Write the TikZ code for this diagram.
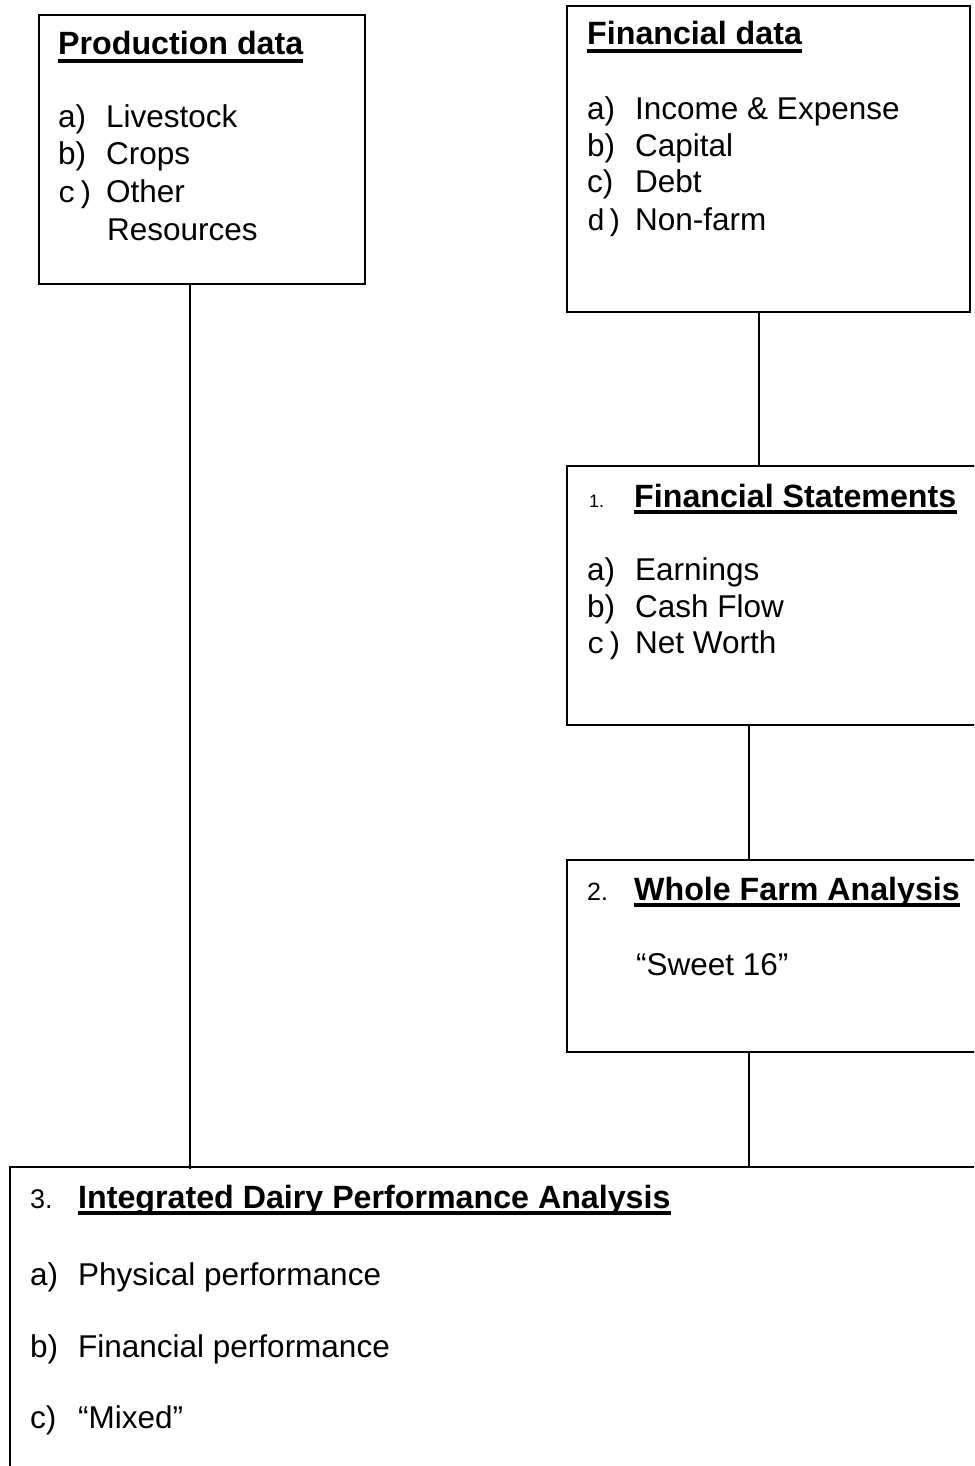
\documentclass[tikz,border=0pt]{standalone}
\usepackage{fontspec}
\setmainfont{Liberation Sans}
\newfontfamily\monof{Liberation Mono}
\begin{document}
\begin{tikzpicture}[x=1pt,y=-1pt,
  box/.style={draw, line width=2pt, rectangle, anchor=north west, inner sep=0pt},
  txt/.style={anchor=base west, inner sep=0pt, font=\fontsize{31.5}{37}\selectfont},
  hd/.style={anchor=base west, inner sep=0pt, font=\fontsize{32.2}{37}\selectfont\bfseries},
  conn/.style={line width=2pt},
  ul/.style={line width=3.2pt}]
\useasboundingbox (0,0) rectangle (974,1466);
\fill[white] (0,0) rectangle (974,1466);
\clip (0,0) rectangle (974,1466);
\newcommand{\tabit}[1]{\makebox[48pt][l]{#1}}
\newcommand{\mtab}[1]{\makebox[48pt][l]{\monof\fontsize{30}{37}\selectfont #1}}
% boxes
\node[box, minimum width=326pt, minimum height=269pt] (prod) at (38,14) {};
\node[box, minimum width=403pt, minimum height=306pt] (fdata) at (566,5) {};
\node[box, minimum width=460pt, minimum height=259pt] (fstat) at (566,465) {};
\node[box, minimum width=460pt, minimum height=192pt] (wfa) at (566,859) {};
\node[box, minimum width=1000pt, minimum height=400pt] (idpa) at (9,1166) {};
% connectors
\coordinate (c1) at (190,1169);
\draw[conn] (prod.south -| c1) -- (c1);
\coordinate (k0) at ([xshift=-9.5pt]fdata.south);
\draw[conn] (k0) -- (k0 |- fstat.north);
\coordinate (k1) at ([xshift=183pt]fstat.south west);
\draw[conn] (k1) -- (k1 |- wfa.north);
\coordinate (k2) at ([xshift=183pt]wfa.south west);
\draw[conn] (k2) -- (k2 |- idpa.north);
% production data
\node[hd] (hp) at (58,55) {Production data};
\draw[ul] ([yshift=-6pt]hp.base west) -- ([yshift=-6pt]hp.base east);
\node[txt] (p1) at (58,128) {\tabit{a)}Livestock};
\node[txt] (p2) at (58,165) {\tabit{b)}Crops};
\node[txt] (p3) at (58,203) {\mtab{c)}Other};
\node[txt] (p4) at (107,240) {Resources};
% financial data
\node[hd] (hf) at (587,45) {Financial data};
\draw[ul] ([yshift=-6pt]hf.base west) -- ([yshift=-6pt]hf.base east);
\node[txt] (f1) at (587,120) {\tabit{a)}Income \& Expense};
\node[txt] (f2) at (587,157) {\tabit{b)}Capital};
\node[txt] (f3) at (587,193) {\tabit{c)}Debt};
\node[txt] (f4) at (587,230) {\mtab{d)}Non-farm};
% financial statements
\node[anchor=base west, inner sep=0pt, font=\fontsize{18}{20}\selectfont] (n1) at (589,507) {1.};
\node[hd] (hs) at (634,507) {Financial Statements};
\draw[ul] ([yshift=-5pt]hs.base west) -- ([yshift=-5pt]hs.base east);
\node[txt] (s1) at (587,580) {\tabit{a)}Earnings};
\node[txt] (s2) at (587,617) {\tabit{b)}Cash Flow};
\node[txt] (s3) at (587,653) {\mtab{c)}Net Worth};
% whole farm analysis
\node[anchor=base west, inner sep=0pt, font=\fontsize{25}{28}\selectfont] (n2) at (587,900) {2.};
\node[hd] (hw) at (634,900) {Whole Farm Analysis};
\draw[ul] ([yshift=-5pt]hw.base west) -- ([yshift=-5pt]hw.base east);
\node[txt] (w1) at (636,975) {“Sweet 16”};
% integrated
\node[anchor=base west, inner sep=0pt, font=\fontsize{27}{30}\selectfont] (n3) at (30,1208) {3.};
\node[hd] (hi) at (78,1208) {Integrated Dairy Performance Analysis};
\draw[ul] ([yshift=-5pt]hi.base west) -- ([yshift=-5pt]hi.base east);
\node[txt] (i1) at (30,1285) {\tabit{a)}Physical performance};
\node[txt] (i2) at (30,1357) {\tabit{b)}Financial performance};
\node[txt] (i3) at (30,1428) {\tabit{c)}“Mixed”};
\end{tikzpicture}
\end{document}
